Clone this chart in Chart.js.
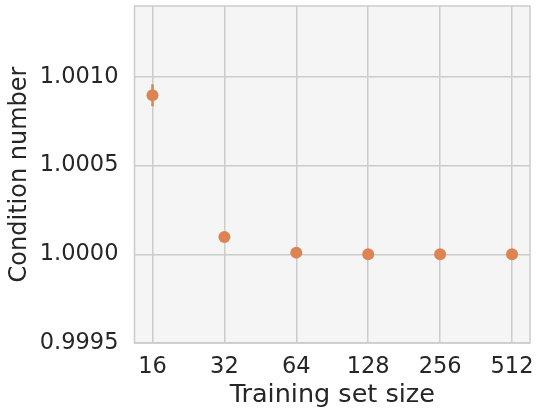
<!DOCTYPE html>
<html>
<head>
<meta charset="utf-8">
<script src="https://cdn.jsdelivr.net/npm/chart.js@4/dist/chart.umd.min.js"></script>
<style>
  html, body { margin: 0; padding: 0; background: #ffffff; }
  #wrap { width: 536px; height: 411px; }
</style>
</head>
<body>
<div id="wrap"><canvas id="chart" width="536" height="411"></canvas></div>
<script>
// Training set sizes and mean condition numbers with their error half-widths
const sizes = [16, 32, 64, 128, 256, 512];
const condMean = [1.000897, 1.000097, 1.0000095, 1.0000003, 1.0000001, 1.0000001];
const condErr = [0.000062, 0, 0, 0, 0, 0];
const yTicks = [0.9995, 1.0000, 1.0005, 1.0010];

const ORANGE = '#dd8452';
const GRID = '#cccccc';
const TEXT = '#262626';
const FONT = "'DejaVu Sans', sans-serif";

const points = sizes.map((n, i) => ({ x: Math.log2(n), y: condMean[i], err: condErr[i] }));

// Panel background, frame and vertical error bars
const panelPlugin = {
  id: 'panel',
  beforeDraw(chart) {
    const { ctx, chartArea: a } = chart;
    ctx.save();
    ctx.fillStyle = '#f5f5f5';
    ctx.fillRect(a.left, a.top, a.right - a.left, a.bottom - a.top);
    ctx.restore();
  },
  beforeDatasetsDraw(chart) {
    const { ctx, chartArea: a, scales } = chart;
    ctx.save();
    ctx.strokeStyle = GRID;
    ctx.lineWidth = 1.5;
    ctx.strokeRect(a.left, a.top, a.right - a.left, a.bottom - a.top);
    ctx.strokeStyle = ORANGE;
    ctx.lineWidth = 2.5;
    points.forEach(p => {
      if (!p.err) return;
      const x = scales.x.getPixelForValue(p.x);
      ctx.beginPath();
      ctx.moveTo(x, scales.y.getPixelForValue(p.y - p.err));
      ctx.lineTo(x, scales.y.getPixelForValue(p.y + p.err));
      ctx.stroke();
    });
    ctx.restore();
  }
};

new Chart(document.getElementById('chart'), {
  type: 'scatter',
  data: {
    datasets: [{
      data: points,
      backgroundColor: ORANGE,
      borderWidth: 0,
      pointRadius: 6,
      pointHoverRadius: 6
    }]
  },
  options: {
    responsive: false,
    animation: false,
    events: [],
    layout: { padding: { top: 3, right: 6, left: 0, bottom: 0 } },
    plugins: { legend: { display: false }, tooltip: { enabled: false } },
    scales: {
      x: {
        type: 'linear',
        min: 3.75,
        max: 9.25,
        afterBuildTicks(scale) { scale.ticks = sizes.map(n => ({ value: Math.log2(n) })); },
        afterFit(scale) {
          scale.height = 68;
          scale.paddingLeft = 0;
          scale.paddingRight = 0;
        },
        grid: { color: GRID, lineWidth: 1.5, drawTicks: false },
        border: { display: false },
        ticks: {
          color: TEXT,
          font: { family: FONT, size: 22.5 },
          padding: 11,
          maxRotation: 0,
          callback: v => String(Math.round(Math.pow(2, v)))
        },
        title: {
          display: true,
          text: 'Training set size',
          color: TEXT,
          font: { family: FONT, size: 25.5 },
          padding: { top: 0, bottom: 0 }
        }
      },
      y: {
        type: 'linear',
        min: 0.9995,
        max: 1.0014,
        afterBuildTicks(scale) { scale.ticks = yTicks.map(v => ({ value: v })); },
        afterFit(scale) {
          scale.width = 134.5;
          scale.paddingTop = 0;
          scale.paddingBottom = 0;
        },
        grid: { color: GRID, lineWidth: 1.5, drawTicks: false },
        border: { display: false },
        ticks: {
          color: TEXT,
          font: { family: FONT, size: 22.5 },
          padding: 16,
          callback: v => v.toFixed(4)
        },
        title: {
          display: true,
          text: 'Condition number',
          color: TEXT,
          font: { family: FONT, size: 24 },
          padding: { top: 5, bottom: 0 }
        }
      }
    }
  },
  plugins: [panelPlugin]
});
</script>
</body>
</html>
